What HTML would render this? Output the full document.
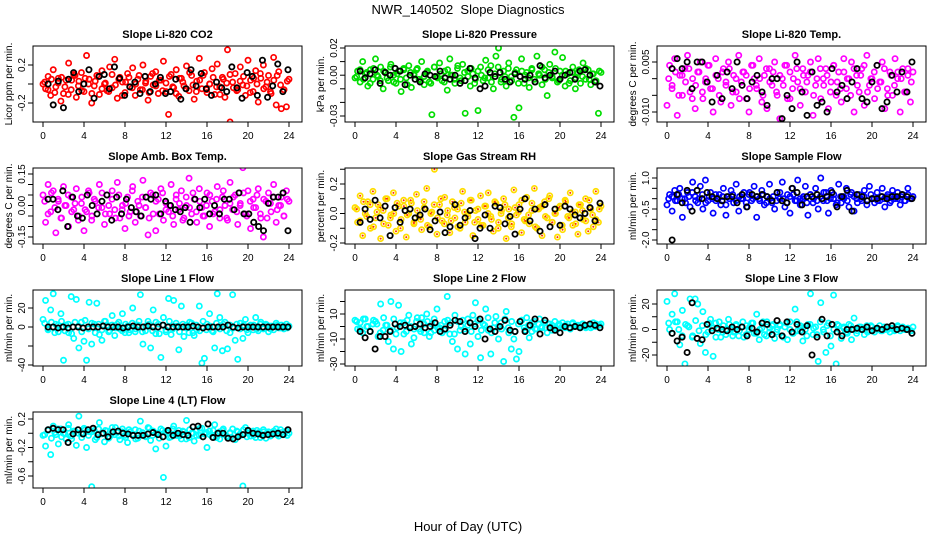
<!DOCTYPE html>
<html><head><meta charset="utf-8"><style>
body{margin:0;background:#fff;width:936px;height:540px;overflow:hidden}
svg{display:block;font-family:"Liberation Sans",sans-serif}
</style></head><body>
<svg id="chart" width="936" height="540" viewBox="0 0 936 540" xmlns="http://www.w3.org/2000/svg">
<text x="468" y="14" text-anchor="middle" font-size="13" xml:space="preserve">NWR_140502  Slope Diagnostics</text>
<text x="468" y="531" text-anchor="middle" font-size="13">Hour of Day (UTC)</text>
</svg>
<script>
// ---- data (values in panel units / scale) ----
const co2Vals=[0,-5,8,-12,15,-3,6,-18,-10,4,22,-6,10,-14,3,12,-8,30,5,-20,-2,9,-11,14,0,-7,18,-4,26,-15,7,2,-9,11,-3,17,-12,5,-6,20,1,-17,8,-1,13,-10,4,24,-8,-32,10,-4,15,-13,6,-2,19,-7,9,-16,3,27,-5,12,-9,0,16,-11,21,-3,7,-14,36,-40,2,11,-6,18,-1,-12,25,4,-8,14,-19,6,20,-3,9,-10,28,-22,13,-26,-6,-24,5];
const co2Core=[2,-6,5,-9,1,7,-3,-11,4,9,-2,-7,6,0,-10,3,8,-5,1,-8,10,-1,5,-12,2,7,-4,0,9,-6,3,-9,11,-2,4,-7,1,8,-3,-10,6,2,-5,12,-1,-8,4,9,-6,0,7,-3,-11,5,1,10,-4,-7,3,8,-2,-9,6,0,11,-5,2,-8,4,9,-1,-6,3];
const co2Black=[0,-22,3,-25,5,12,-8,0,15,-15,8,10,-5,18,6,-12,-3,2,-10,8,-8,0,7,-10,-8,5,-16,-5,15,-2,11,-5,-12,2,-4,-8,18,-4,-15,12,8,-12,25,-14,-2,21,-8,15];
const presVals=[-2,3,-5,10,1,-8,4,-3,12,-1,6,-10,2,-4,8,0,-6,3,-12,5,-2,7,-9,1,4,-3,10,-7,2,-5,-29,6,-1,9,-4,3,-11,12,0,-6,5,-2,8,-28,3,-8,1,-3,-26,6,-4,11,-2,7,-10,14,20,-5,3,-8,9,-1,-31,4,-24,12,-6,2,-9,5,-3,14,0,-7,4,-15,8,-2,17,-5,3,13,-8,1,-4,6,-10,2,-6,9,-3,4,-7,1,-5,-28,2];
const presCore=[-1,4,-3,2,-6,5,0,-4,3,-2,6,-5,1,-3,4,-7,2,0,5,-4,-1,3,-6,6,-2,1,-5,4,0,-3,7,-4,2,-1,5,-6,3,0,-2,4,-5,1,6,-3,-1,5,-4,2,-6,3,0,-2,4,-5,1,6,-3,2,-1,5,-4,0,3,-6,2,-2,4,-1,5,-3,1,-4,3];
const presBlack=[3,-2,1,4,-6,2,0,5,3,-7,0,-3,-5,1,0,-1,3,-2,-3,0,-6,-4,5,-2,-10,-8,2,-1,2,-3,-5,1,-1,-3,0,-5,7,-2,0,3,-3,0,2,-3,3,4,0,-5,-8];
const tempVals=[-8,4,-2,6,-11,1,-5,3,7,-4,0,-9,2,5,-6,-1,4,-3,-10,6,0,-7,3,-2,5,-8,1,-4,7,-1,2,-6,-10,4,0,-3,6,-7,1,-9,3,-2,5,-5,-12,0,4,-6,2,-3,7,-1,-8,3,-4,1,5,-11,-2,6,-6,0,3,-9,-1,4,-5,2,-7,6,-3,0,5,-10,1,-4,3,-8,7,-2,0,-6,4,-1,5,-9,-3,2,-5,6,0,-10,3,-4,1,-7,2];
const tempCore=[0,-3,2,-5,1,-1,3,-6,-2,2,-4,0,4,-3,1,-5,2,-1,3,-4,0,-6,2,1,-3,4,-2,0,-5,3,-1,2,-4,1,-2,4,-6,0,3,-3,1,-1,2,-5,0,3,-2,1,-4,4,-1,-3,2,0,-5,3,-2,1,4,-4,0,2,-3,-1,3,-5,1,-2,2,0,-4,3,-1];
const tempBlack=[3,6,3,5,-3,5,5,-1,-7,1,-6,2,-3,5,-2,-6,-1,1,-4,-8,0,0,-12,-5,-9,5,-4,-11,2,-8,-7,-10,3,-4,-2,-6,-1,3,-6,-7,-1,4,-9,-7,1,-4,2,-4,5];
const ambVals=[5,-8,10,-3,7,-13,2,-6,9,0,-10,4,-2,8,-5,1,-12,-3,6,-7,3,-20,10,-1,-9,5,-4,7,-2,11,-6,0,-11,4,-3,9,-8,2,-5,12,-1,-14,6,-4,-12,3,8,-7,1,-3,10,-9,5,-2,7,-6,0,13,-4,3,-8,8,-1,-5,6,-10,2,-3,9,-6,4,0,-7,11,-2,5,-9,1,18,-4,7,-11,3,-1,8,-6,-15,2,6,-3,10,-8,0,4,-5,7,2];
const ambCore=[2,-4,6,-1,3,-6,0,5,-3,1,-7,4,-2,7,-5,2,-1,6,-4,0,3,-6,5,-2,1,-5,7,-3,0,4,-1,-6,5,2,-4,6,-2,0,-5,3,1,-7,4,-1,6,-3,2,-5,0,5,-4,3,-2,7,-6,1,4,-3,0,6,-5,2,-1,5,-4,3,-6,1,4,-2,0,-5,3];
const ambBlack=[3,3,-2,7,-10,4,-5,-6,5,0,-4,2,5,-7,4,-4,3,-1,-3,-5,4,3,5,-4,2,0,-2,-3,-1,-8,3,-1,3,-4,0,-4,3,3,-2,6,-4,-4,-8,-10,-12,1,4,4,6,-12];
const rhVals=[4,-6,12,-15,0,8,-10,15,-3,6,-17,2,10,-8,-1,14,-12,5,-4,9,-16,0,7,-7,13,-2,-11,4,17,-9,1,30,-14,6,-5,11,-1,-13,8,-3,3,-10,15,-6,0,9,-15,2,-4,12,-8,5,14,-2,-12,7,-6,0,10,-17,3,-9,16,-1,6,-13,-4,11,-7,2,17,-10,4,-15,8,-3,12,-6,0,-16,5,-11,9,-2,14,-8,1,-14,6,-4,10,-12,3,-9,15,-6,5];
const rhCore=[3,-5,8,-2,6,-9,1,4,-7,10,-3,0,7,-10,5,-1,9,-6,2,-4,8,-8,0,6,-3,10,-7,2,-5,4,-9,7,1,-2,9,-6,3,-8,5,0,-4,8,-10,2,6,-3,-7,4,1,9,-5,-1,7,-9,3,5,-2,10,-6,0,4,-8,8,-3,1,-7,6,2,-5,9,-1,-4,3];
const rhBlack=[-6,3,-4,9,-3,5,-15,4,-6,2,3,-3,-1,3,-11,-5,1,-13,-9,6,-8,-3,2,-17,-10,-1,-10,5,4,-7,-2,-14,3,10,-5,3,-12,6,-9,3,-8,5,3,-1,-3,0,4,-5,7];
const sampVals=[-3,2,-6,4,-1,5,-9,0,3,-4,8,1,-2,6,-5,9,-1,3,-7,2,0,-3,5,-8,1,4,-2,7,-6,0,3,-4,2,-1,6,-9,0,4,-3,1,7,-2,-5,3,0,8,-4,2,-7,5,-1,9,-3,0,6,-8,2,-2,5,-5,10,-1,3,-7,4,0,-3,7,-2,1,5,-4,3,-6,0,2,-1,4,-3,6,0,-2,3,-1,5,-4,1,-2,4,0,3,-3,2,-1,5,0,1];
const sampCore=[0,1,-1,2,0,-2,1,3,-1,0,2,-2,1,0,-1,2,1,-3,0,2,-1,1,0,-2,3,0,1,-1,2,-2,0,1,-1,3,0,-2,1,2,-1,0,1,-2,2,0,-1,1,3,-1,0,2,-2,1,0,-1,2,1,-2,0,1,-1,2,0,-1,1,0,2,-1,1,0,1,-1,2,0];
const sampBlack=[-20,2,-2,4,-6,4,0,3,1,0,-1,1,1,-2,2,-4,2,1,2,1,-1,3,-1,-2,5,3,-3,1,1,2,0,1,3,-4,1,4,-6,2,1,-1,0,0,1,0,1,1,2,1,0];
const line1Vals=[8,28,-2,18,35,3,-5,14,-35,2,-6,32,-12,29,-22,5,-15,-35,26,-18,3,25,-8,-14,6,2,-4,12,-9,3,-2,14,-6,1,-3,20,-5,2,34,-18,-4,6,-22,18,-7,3,-32,10,-5,30,-8,28,1,-24,22,-10,2,-6,4,-9,-3,22,-38,-33,3,14,-4,-22,35,10,-25,5,-23,-6,34,-14,-34,4,-12,8,-6,2,-3,10,-4,5,-2,3,-5,1,-3,4,-1,2,-2,3,1];
const line1Core=[4,-3,5,-6,2,6,-4,3,-7,5,1,-5,7,-2,4,-6,3,-3,6,-5,2,-1,5,-4,3,-6,4,-2,6,-5,1,3,-4,5,-7,2,-3,6,-2,4,-5,3,-1,5,-6,2,-4,6,-3,1,-5,4,-2,3,-4,2,-1,3,-2,2,-3,1,2,-2,3,-1,2,-2,1,2,-1,1,-1];
const line1Black=[0,0,-1,0,-1,0,0,-1,0,0,0,1,0,0,0,-1,0,1,0,0,1,0,0,2,0,0,0,0,0,1,0,-1,0,0,0,0,2,0,-1,0,0,0,0,0,0,0,0,0,0];
const line2Vals=[5,-2,3,-5,6,0,-4,2,4,-8,18,-3,1,-12,20,-18,-6,17,-20,3,-4,9,-14,-9,4,-2,7,-5,10,-8,2,-3,14,-1,-5,4,24,-6,-12,9,-18,-3,5,-22,1,-14,9,19,-8,-25,2,14,-3,-22,-1,8,-10,3,-28,12,-5,-18,-10,-26,-20,5,-1,7,-9,-4,4,-2,6,-1,3,-5,2,-3,4,-2,1,3,-1,2,-2,3,0,1,-1,2,0,1,-1,3,0,1,2];
const line2Core=[4,-2,6,0,-4,5,2,-5,7,1,-3,6,-1,3,-6,5,0,-2,7,-4,2,4,-5,6,-1,1,-3,5,3,-6,4,0,-2,6,-4,2,5,-3,1,7,-5,3,0,-2,6,-1,4,-4,2,5,-3,1,3,-2,2,0,-1,2,1,-1,2,0,1,-1,2,1,0,2,-1,1,0,2,1];
const line2Black=[-4,-9,-4,-18,-8,-8,-4,2,0,1,-1,0,2,-1,0,3,-4,-2,1,5,4,-4,3,0,6,-10,-2,-4,0,5,-3,-4,4,-4,1,6,-6,5,-1,-3,-5,0,-1,0,-1,1,2,1,-1];
const line3Vals=[22,0,12,28,6,-12,15,-27,3,24,-5,24,20,-11,14,-18,-2,8,-21,5,0,-6,3,-4,8,0,-2,4,-5,2,-6,3,0,5,-3,12,-8,1,-4,6,-2,3,-7,0,4,-5,2,-8,6,-3,16,-1,3,-9,0,4,28,-4,2,-25,21,0,-18,5,-13,27,-27,3,-7,1,-2,4,-8,9,-3,2,0,-4,3,-1,2,-2,1,3,-1,0,2,-2,1,0,3,-1,2,0,1,-1,2];
const line3Core=[5,-3,6,0,-5,4,2,-6,7,-1,3,-4,5,1,-6,6,-2,0,4,-5,3,-1,6,-4,2,5,-3,0,6,-5,1,4,-2,3,-6,5,0,-3,6,-1,2,-5,4,1,-4,6,-2,3,-5,0,4,-1,2,-3,3,0,-1,2,1,-2,3,0,1,-1,2,0,1,-1,2,1,0,1,-1];
const line3Black=[-3,-9,-6,-18,21,-7,-8,4,-1,1,0,-1,2,0,2,-5,1,-2,5,4,-4,7,-5,6,-2,4,-2,3,-20,-6,8,-5,4,-2,-5,0,0,1,0,2,-1,1,0,2,3,0,1,0,-3];
const line4Vals=[-3,-18,5,-30,10,-2,-15,6,0,-8,12,-4,3,-17,24,-1,7,-20,2,-75,4,-6,15,0,-12,3,-5,8,-2,1,-9,6,-3,-13,2,-1,5,-7,17,0,-4,8,-10,3,-22,0,6,-62,-18,1,-5,10,-3,4,-8,2,18,-6,0,-11,5,-3,7,-1,-20,3,-5,12,0,-8,4,-2,-6,1,6,-9,2,-3,-74,8,0,-4,3,-6,1,-2,5,-7,2,-3,0,6,-4,1,-2,3,0];
const line4Core=[-2,4,-7,1,6,-5,-1,7,-8,3,0,-6,5,-3,2,-9,6,-1,4,-7,0,8,-4,2,-6,5,-2,-8,3,1,-5,7,-3,0,-7,4,2,-6,6,-1,-4,3,-8,5,0,-3,7,-5,1,-2,4,-6,2,6,-4,0,-7,3,-1,5,-5,1,-3,4,-6,2,0,-4,3,-2,5,-1,-3];
const line4Black=[5,7,5,5,-13,-1,5,-1,5,7,-2,0,-5,2,3,0,-1,-3,-3,-3,-1,1,-2,-5,4,-3,0,-2,-3,9,10,-5,13,-6,0,0,-7,-8,-5,-2,4,0,-1,-3,-2,-1,0,-2,5];
const xTicks=[0,4,8,12,16,20,24];
const panelTitles=["Slope Li-820 CO2","Slope Li-820 Pressure","Slope Li-820 Temp.","Slope Amb. Box Temp.","Slope Gas Stream RH","Slope Sample Flow","Slope Line 1 Flow","Slope Line 2 Flow","Slope Line 3 Flow","Slope Line 4 (LT) Flow"];
const yTitles=["Licor ppm per min.","kPa per min.","degrees C per min.","degrees C per min.","percent per min.","ml/min per min.","ml/min per min.","ml/min per min.","ml/min per min.","ml/min per min."];
const yTickVals=[[-0.2,0,0.2],[-0.03,-0.02,-0.01,0,0.01,0.02],[-0.01,-0.005,0,0.005],[-0.15,-0.1,-0.05,0,0.05,0.1,0.15],[-0.2,-0.1,0,0.1,0.2,0.3],[-2,-1.5,-1,-0.5,0,0.5,1],[-40,-20,0,20],[-30,-20,-10,0,10,20],[-20,-10,0,10,20],[-0.6,-0.4,-0.2,0,0.2]];
const yTickLabels=[["-0.2","","0.2"],["-0.03","","","0.00","","0.02"],["-0.010","","","0.005"],["-0.15","","","0.00","","","0.15"],["-0.2","","0.0","","0.2",""],["-2.0","","","-0.5","","","1.0"],["-40","","0","20"],["-30","","-10","","10",""],["-20","","0","","20"],["-0.6","","-0.2","","0.2"]];
const colorSeries=[co2Vals,presVals,tempVals,ambVals,rhVals,sampVals,line1Vals,line2Vals,line3Vals,line4Vals];
const coreSeries=[co2Core,presCore,tempCore,ambCore,rhCore,sampCore,line1Core,line2Core,line3Core,line4Core];
const blackSeries=[co2Black,presBlack,tempBlack,ambBlack,rhBlack,sampBlack,line1Black,line2Black,line3Black,line4Black];
const scales=[0.01,0.001,0.001,0.01,0.01,0.1,1,1,1,0.01];
const yRef=[[0.2,65,-0.2,103],[0.02,48,-0.03,116],[0.005,62,-0.01,112],[0.15,174,-0.15,237],[0.2,184,-0.2,243],[1,178,-2,240],[20,308,-40,365],[10,314,-30,364],[20,304,-20,355],[0.2,419,-0.6,476]];
const colors=["#ff0000","#00dd00","#ff00ff","#ff00ff","#ffdd00","#0000ff","#00ffff","#00ffff","#00ffff","#00ffff"];
const names=["co2","pressure","licor-temp","amb-box-temp","gas-stream-rh","sample-flow","line1-flow","line2-flow","line3-flow","line4-flow"];

const svg=document.getElementById('chart');
const NS="http://www.w3.org/2000/svg";
function mk(tag,attrs,parent){const e=document.createElementNS(NS,tag);for(const k in attrs)e.setAttribute(k,attrs[k]);(parent||svg).appendChild(e);return e;}

for(let p=0;p<10;p++){
  const col=p%3,row=Math.floor(p/3);
  const L=33+col*312,R=L+269,T=46+row*122,B=T+76;
  const xs=h=>(43+col*312)+h*(246/24);
  const [v1,p1,v2,p2]=yRef[p];
  const ys=v=>p1+(v-v1)*(p2-p1)/(v2-v1);
  const g=mk('g',{});
  
  
  const t=mk('text',{x:(L+R)/2,y:T-8,'text-anchor':'middle','font-size':'11','font-weight':'bold'},g);
  t.textContent=panelTitles[p];
  
  
  const yt=mk('text',{x:0,y:0,'text-anchor':'middle','font-size':'10',transform:`translate(${L-21},${(T+B)/2}) rotate(-90)`},g);
  yt.textContent=yTitles[p];
  
  
  const cid='clip'+p;
  const cp=mk('clipPath',{id:cid},g);mk('rect',{x:L,y:T,width:R-L,height:B-T},cp);
  const pts=mk('g',{'clip-path':`url(#${cid})`},g);
  
  
  const drawColor=(arr,off)=>{
    const n=arr.length;
    arr.forEach((v,i)=>{
      const h=off?(i+0.5)*24/n:i*24/(n-1),cx=xs(h),cy=ys(v*scales[p]);
      const c=mk('circle',{cx:cx,cy:cy,r:2.6,fill:'none',stroke:colors[p],'stroke-width':1.7},pts);
      
      
      if(p===4){mk('circle',{cx:cx,cy:cy,r:1,fill:'#ff3300'},pts);}
    });
  };
  drawColor(colorSeries[p],false);
  drawColor(coreSeries[p],true);
  const bv=blackSeries[p],m=bv.length;
  bv.forEach((v,i)=>{
    const h=0.5+i*23.4/(m-1);
    const c=mk('circle',{cx:xs(h),cy:ys(v*scales[p]),r:2.6,fill:'none',stroke:'#000','stroke-width':1.8},pts);
    
    
  });
  const box=mk('rect',{x:L,y:T,width:R-L,height:B-T,fill:'none',stroke:'#000','stroke-width':1},g);
  
  
  xTicks.forEach(h=>{
    mk('line',{x1:xs(h),x2:xs(h),y1:B,y2:B+5,stroke:'#000'},g);
    const tl=mk('text',{x:xs(h),y:B+17,'text-anchor':'middle','font-size':'10'},g);
    tl.textContent=h;
    
    
  });
  yTickVals[p].forEach((v,i)=>{
    const y=ys(v);
    mk('line',{x1:L-5,x2:L,y1:y,y2:y,stroke:'#000'},g);
    const lab=yTickLabels[p][i];
    if(lab){
      const tl=mk('text',{x:0,y:0,'text-anchor':'middle','font-size':'10',transform:`translate(${L-8},${y}) rotate(-90)`},g);
      tl.textContent=lab;
      
      
    }
  });
}
</script>
</body></html>
